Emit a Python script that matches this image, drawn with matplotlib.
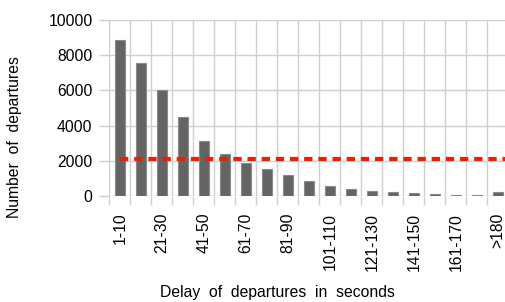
import matplotlib.pyplot as plt
from matplotlib.ticker import FixedLocator

categories = ["1-10", "11-20", "21-30", "31-40", "41-50", "51-60", "61-70",
              "71-80", "81-90", "91-100", "101-110", "111-120", "121-130",
              "131-140", "141-150", "151-160", "161-170", "171-180", ">180"]
departures = [8850, 7530, 6030, 4490, 3100, 2400, 1850, 1530, 1170, 830,
              590, 410, 290, 210, 150, 110, 80, 50, 210]
threshold = 2100

plt.rcParams['font.family'] = ['Liberation Sans', 'DejaVu Sans']

fig = plt.figure(figsize=(5.05, 3.02), dpi=100)
ax = fig.add_axes([0.2164, 0.351, 0.7836, 0.583])

x = list(range(len(categories)))
ax.bar(x, departures, width=0.5, color="#646464", edgecolor="#8a8a8a",
       linewidth=0.8, zorder=3)
ax.plot([0, len(categories)], [threshold, threshold], color="#e2230c",
        linewidth=3.0, dashes=(2.0, 1.4), zorder=4)

ax.set_xlim(-0.5, 18.34)
ax.set_ylim(0, 10000)
ax.set_yticks(range(0, 10001, 2000))

ax.set_xticks(x)
ax.set_xticklabels([c if i % 2 == 0 else "" for i, c in enumerate(categories)],
                   rotation=90, fontsize=11.3)
ax.xaxis.set_minor_locator(FixedLocator([i - 0.5 for i in range(len(categories) + 1)]))
ax.tick_params(axis="x", which="major", length=0, pad=12)
ax.tick_params(axis="x", which="minor", length=6.5, color="#cfcfcf", width=1)
ax.tick_params(axis="y", length=7, color="#cfcfcf", width=1, pad=5, labelsize=11.3)

ax.grid(axis="y", color="#cfcfcf", linewidth=1, zorder=0)
ax.grid(axis="x", which="minor", color="#cfcfcf", linewidth=1, zorder=0)
for s in ax.spines.values():
    s.set_visible(False)

fig.text(277 / 505, 1 - 292 / 302, "Delay  of  departures  in  seconds",
         fontsize=11.3, ha="center", va="center")
fig.text(15 / 505, 1 - 137 / 302, "Number  of  departures", rotation=90,
         fontsize=11.3, ha="center", va="center")

fig.savefig("out.png", dpi=100)
